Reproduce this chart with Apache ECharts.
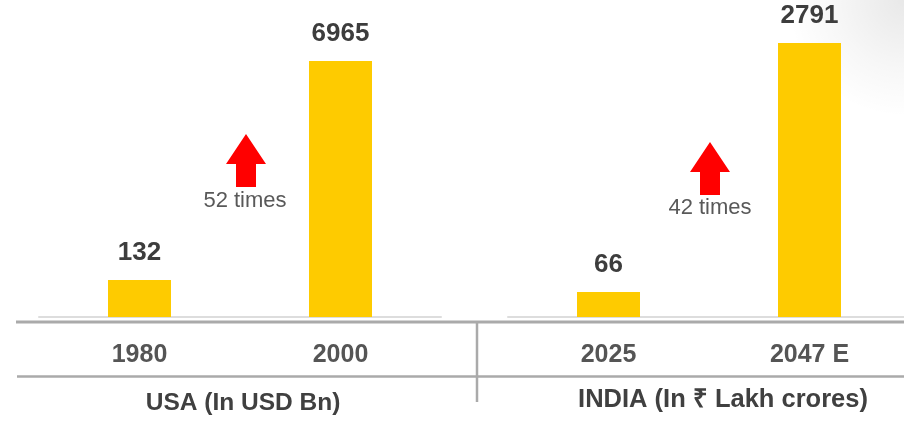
<!DOCTYPE html>
<html>
<head>
<meta charset="utf-8">
<script src="https://cdn.jsdelivr.net/npm/echarts@6/dist/echarts.min.js"></script>
<style>html,body{margin:0;padding:0;background:#fff}#c{width:904px;height:421px}</style>
</head>
<body>
<div id="c"></div>
<script>
const usaCategories = ['1980', '2000'];
const usaValues = [132, 6965];
const indiaCategories = ['2025', '2047 E'];
const indiaValues = [66, 2791];
const groupTitles = ['USA (In USD Bn)', 'INDIA (In \u20B9 Lakh crores)'];
const growthLabels = ['52 times', '42 times'];

const FONT = '"Liberation Sans", Arial, sans-serif';
const BAR = '#FECB00';

function arrow(cx, tipY) {
  return {
    type: 'polygon',
    shape: { points: [[cx, tipY], [cx + 20, tipY + 30], [cx + 10, tipY + 30], [cx + 10, tipY + 53], [cx - 10, tipY + 53], [cx - 10, tipY + 30], [cx - 20, tipY + 30]] },
    style: { fill: '#FF0000' },
    z: 10
  };
}
function hline(x1, x2, y, color, w) {
  return { type: 'line', shape: { x1: x1, y1: y, x2: x2, y2: y }, style: { stroke: color, lineWidth: w }, z: 5 };
}

const chart = echarts.init(document.getElementById('c'), null, { renderer: 'canvas' });
const xAxisCommon = {
  type: 'category',
  axisTick: { show: false },
  axisLine: { show: true, lineStyle: { color: '#DDDDDD', width: 2 } },
  axisLabel: { color: '#555555', fontSize: 25, fontWeight: 'bold', fontFamily: FONT, margin: 26 }
};
const yAxisCommon = { type: 'value', min: 0, max: 'dataMax', show: false, splitLine: { show: false } };
const seriesCommon = {
  type: 'bar',
  barWidth: 63,
  itemStyle: { color: BAR },
  label: { show: true, position: 'top', distance: 14, color: '#3D3D3D', fontSize: 26, fontWeight: 'bold', fontFamily: FONT },
  silent: true
};

chart.setOption({
  animation: false,
  backgroundColor: '#FFFFFF',
  grid: [
    { left: 39, width: 402, top: 61, bottom: 104, outerBoundsMode: 'none' },
    { left: 508, right: -6, top: 43, bottom: 104, outerBoundsMode: 'none' }
  ],
  xAxis: [
    Object.assign({ gridIndex: 0, data: usaCategories }, xAxisCommon),
    Object.assign({ gridIndex: 1, data: indiaCategories }, xAxisCommon)
  ],
  yAxis: [
    Object.assign({ gridIndex: 0 }, yAxisCommon),
    Object.assign({ gridIndex: 1 }, yAxisCommon)
  ],
  series: [
    Object.assign({ xAxisIndex: 0, yAxisIndex: 0, data: usaValues, barMinHeight: 37 }, seriesCommon),
    Object.assign({ xAxisIndex: 1, yAxisIndex: 1, data: indiaValues, barMinHeight: 25 }, seriesCommon)
  ],
  graphic: [
    {
      type: 'rect', shape: { x: 700, y: 0, width: 204, height: 130 }, silent: true, z: 0,
      style: { fill: new echarts.graphic.RadialGradient(1, 0, 0.9, [
        { offset: 0, color: 'rgba(0,0,0,0.09)' },
        { offset: 0.6, color: 'rgba(0,0,0,0.03)' },
        { offset: 1, color: 'rgba(0,0,0,0)' }]) }
    },
    hline(16, 904, 322, '#AAAAAA', 3),
    hline(17, 904, 376.5, '#AAAAAA', 2.5),
    { type: 'line', shape: { x1: 477, y1: 322, x2: 477, y2: 402 }, style: { stroke: '#AAAAAA', lineWidth: 2.5 }, z: 5 },
    arrow(246, 134),
    arrow(710, 142),
    { type: 'text', x: 245, y: 201, style: { text: growthLabels[0], font: '22px ' + FONT, fill: '#595959', align: 'center', verticalAlign: 'middle' }, z: 10 },
    { type: 'text', x: 710, y: 208, style: { text: growthLabels[1], font: '22px ' + FONT, fill: '#595959', align: 'center', verticalAlign: 'middle' }, z: 10 },
    { type: 'text', x: 243, y: 403, style: { text: groupTitles[0], font: 'bold 24.5px ' + FONT, fill: '#404040', align: 'center', verticalAlign: 'middle' }, z: 10 },
    { type: 'text', x: 723, y: 400, style: { text: groupTitles[1], font: 'bold 25.5px ' + FONT, fill: '#404040', align: 'center', verticalAlign: 'middle' }, z: 10 }
  ]
});
</script>
</body>
</html>
